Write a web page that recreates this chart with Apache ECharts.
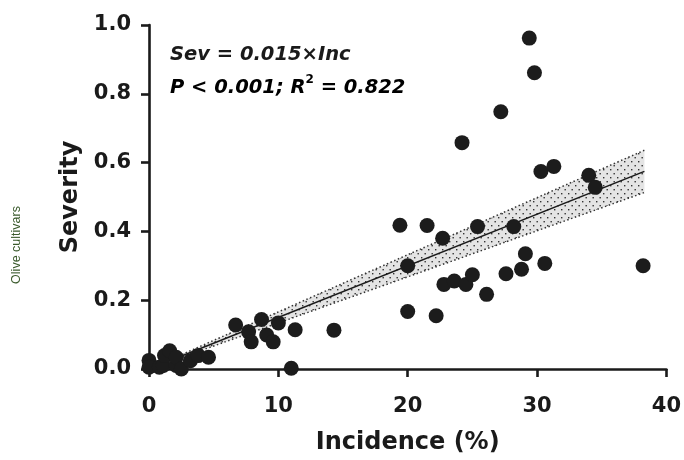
<!DOCTYPE html>
<html><head><meta charset="utf-8">
<script src="https://cdn.jsdelivr.net/npm/echarts@6/dist/echarts.min.js"></script>
<style>html,body{margin:0;padding:0;background:#fff}#c{width:684px;height:460px}</style>
</head><body><div id="c"></div>
<script>
var incidence = [0,0,0.8,1.1,1.2,1.6,2.1,2.1,2.5,3.2,3.8,4.6,
  6.7,7.7,7.9,8.7,9.1,9.6,10.0,11.0,11.3,14.3,
  19.4,20.0,20.0,21.5,22.2,22.7,22.8,23.6,24.2,24.5,25.0,25.4,26.1,27.2,27.6,28.2,28.8,29.1,29.4,29.8,30.3,30.6,31.3,34.0,34.5,38.2];
var severity = [0.025,0.005,0.005,0.010,0.039,0.053,0.010,0.034,0.000,0.024,0.039,0.034,
  0.128,0.108,0.079,0.144,0.099,0.079,0.134,0.002,0.114,0.113,
  0.418,0.300,0.167,0.417,0.155,0.380,0.246,0.256,0.658,0.246,0.274,0.414,0.217,0.748,0.277,0.414,0.290,0.335,0.962,0.861,0.574,0.307,0.589,0.563,0.528,0.300];
var fitX = [0, 38.3];
var fitY = [0, 0.5745];
var ciLower = [0, 0.513];
var ciUpper = [0, 0.636];
var xTicks = [0,10,20,30,40];
var yTicks = ['0.0','0.2','0.4','0.6','0.8','1.0'];

var points = incidence.map(function(x,i){return [x, severity[i]];});
var fitLine = fitX.map(function(x,i){return [x, fitY[i]];});
var lowLine = fitX.map(function(x,i){return [x, ciLower[i]];});
var upLine = fitX.map(function(x,i){return [x, ciUpper[i]];});

var pc = document.createElement('canvas');
pc.width = 7; pc.height = 8;
var g = pc.getContext('2d');
g.fillStyle = '#e4e4e4'; g.fillRect(0,0,7,8);
g.fillStyle = '#333';
g.fillRect(1,1,1.4,1.4); g.fillRect(4.5,5,1.4,1.4);

var FONT = 'DejaVu Sans';
var INK = '#1a1a1a';
var chart = echarts.init(document.getElementById('c'), null, {renderer:'canvas'});
chart.setOption({
  animation:false,
  backgroundColor:'#fff',
  grid:{left:149,right:15,top:25,bottom:90},
  xAxis:{type:'value',min:0,max:40,interval:10,
    name:'Incidence (%)',nameLocation:'middle',nameGap:62,
    nameTextStyle:{fontFamily:FONT,fontWeight:'bold',fontSize:24,color:INK},
    axisLine:{lineStyle:{color:INK,width:2.6}},
    axisTick:{inside:false,length:8,lineStyle:{color:INK,width:2.6}},
    axisLabel:{margin:27,fontFamily:FONT,fontWeight:'bold',fontSize:21,color:INK,
      formatter:function(v){return xTicks.indexOf(v)>=0?String(v):'';}},
    splitLine:{show:false}},
  yAxis:{type:'value',min:0,max:1,interval:0.2,
    name:'Severity',nameLocation:'middle',nameGap:66,nameRotate:90,
    nameTextStyle:{fontFamily:FONT,fontWeight:'bold',fontSize:24,color:INK},
    axisLine:{show:true,lineStyle:{color:INK,width:2.6}},
    axisTick:{show:true,inside:false,length:8,lineStyle:{color:INK,width:2.6}},
    axisLabel:{margin:18,fontFamily:FONT,fontWeight:'bold',fontSize:21,color:INK,
      formatter:function(v){return yTicks[Math.round(v*5)];}},
    splitLine:{show:false}},
  graphic:[
    {type:'text',rotation:Math.PI/2,x:17,y:245,
      style:{text:'Olive cultivars',fontFamily:'Liberation Sans',fontSize:12.5,fill:'#3a5a2c',align:'center',verticalAlign:'middle'}},
    {type:'text',x:170,y:55,style:{text:'Sev = 0.015×Inc',fontFamily:FONT,fontWeight:'bold',fontStyle:'italic',fontSize:19.5,fill:INK,verticalAlign:'middle'}},
    {type:'text',x:170,y:88,style:{text:'{a|P < 0.001; R}{s|2}{a| = 0.822}',verticalAlign:'middle',
      rich:{a:{fontFamily:FONT,fontWeight:'bold',fontStyle:'italic',fontSize:19.5,color:INK},
            s:{fontFamily:FONT,fontWeight:'bold',fontSize:12,color:INK,padding:[0,0,16,0]}}}}
  ],
  series:[
    {type:'custom',z:1,silent:true,data:[0],
      renderItem:function(params,api){
        var pts=[];
        for(var i=0;i<fitX.length;i++) pts.push(api.coord([fitX[i],ciUpper[i]]));
        for(var j=fitX.length-1;j>=0;j--) pts.push(api.coord([fitX[j],ciLower[j]]));
        return {type:'polygon',shape:{points:pts},style:{fill:{image:pc,repeat:'repeat'},stroke:null}};
      }},
    {type:'line',z:2,data:lowLine,symbol:'none',silent:true,lineStyle:{color:'#333',width:1.5,type:[1.5,2.5]}},
    {type:'line',z:2,data:upLine,symbol:'none',silent:true,lineStyle:{color:'#333',width:1.5,type:[1.5,2.5]}},
    {type:'line',z:3,data:fitLine,symbol:'none',silent:true,lineStyle:{color:INK,width:1.6}},
    {type:'scatter',z:4,data:points,symbol:'circle',symbolSize:15,clip:false,
      itemStyle:{color:'#1c1c1c',opacity:1}}
  ]
});
</script></body></html>
